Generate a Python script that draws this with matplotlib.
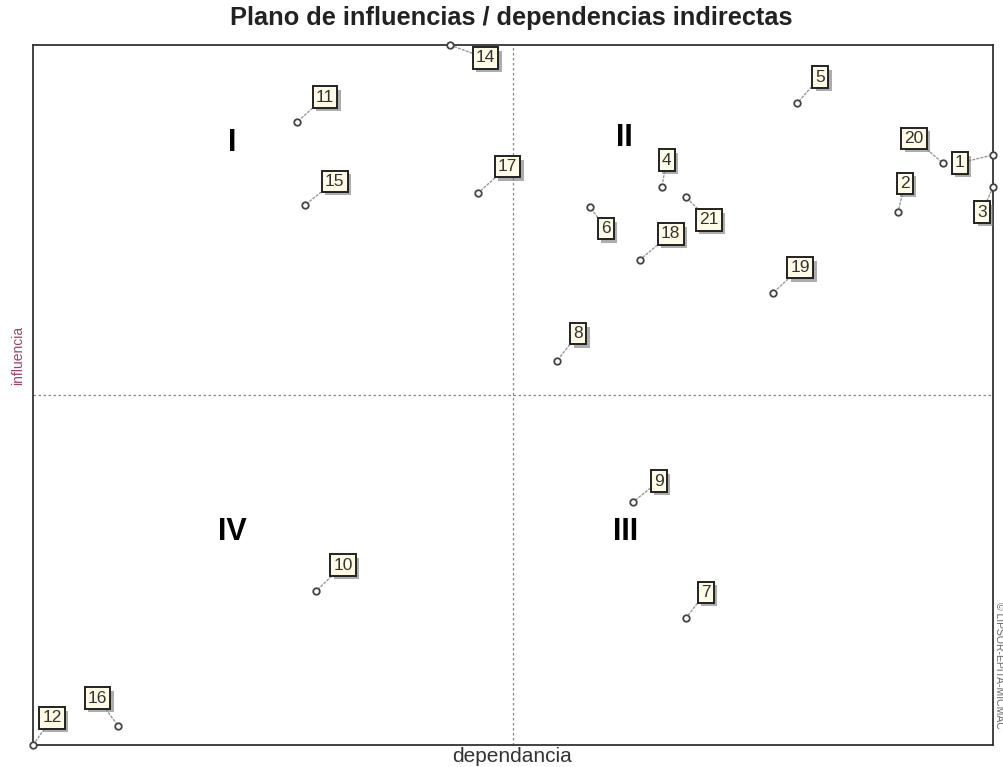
import matplotlib
matplotlib.use("Agg")
import matplotlib.pyplot as plt
import matplotlib.patheffects as pe

plt.rcParams['font.family'] = ['Liberation Sans', 'DejaVu Sans']

# Data (dependance x, influence y), 0..100 scale
ids = ["1", "2", "3", "4", "5", "6", "7", "8", "9", "10", "11", "12",
       "14", "15", "16", "17", "18", "19", "20", "21"]
dependancia = [100.0, 90.1, 100.0, 65.5, 79.6, 58.0, 68.0, 54.6, 62.5, 29.5, 27.5, 0.0,
               43.4, 28.3, 8.9, 46.4, 63.2, 77.1, 94.8, 68.0]
influencia = [84.3, 76.1, 79.7, 79.7, 91.7, 76.9, 18.1, 54.9, 34.7, 22.0, 89.0, 0.0,
              100.0, 77.1, 2.7, 78.9, 69.3, 64.6, 83.1, 78.3]
# label offsets in pixels (layout)
label_dx = [-33, 7, -11, 5, 23, 16, 20, 21, 26, 27, 28, 19, 36, 30, -21, 29, 31, 27, -29, 23]
label_dy = [-8, 29, -25, 27, 26, -22, 26, 27, 21, 26, 25, 27, -13, 24, 28, 26, 26, 25, 25, -23]

quadrants = ["I", "II", "III", "IV"]
quad_x = [20.7, 61.6, 61.7, 20.8]
quad_y = [86.0, 86.7, 30.4, 30.4]

fig = plt.figure(figsize=(10.04, 7.67), dpi=100)
W, H = 1004, 767
ax = fig.add_axes([33 / W, (H - 745) / H, (993 - 33) / W, (745 - 45) / H])
ax.set_xlim(0, 100)
ax.set_ylim(0, 100)
ax.set_xticks([])
ax.set_yticks([])
for s in ax.spines.values():
    s.set_color('#333333')
    s.set_linewidth(1.3)

ax.axvline(50, color='#888888', lw=0.9, ls=(0, (2, 2)), zorder=1)
ax.axhline(50, color='#888888', lw=0.9, ls=(0, (2, 2)), zorder=1)

for i, (lab, x, y) in enumerate(zip(ids, dependancia, influencia)):
    dx, dy = label_dx[i], label_dy[i]
    t = ax.annotate(lab, xy=(x, y), xytext=(dx, dy), textcoords='offset pixels',
                    ha='center', va='center', fontsize=12.5, color='#333333',
                    bbox=dict(boxstyle='square,pad=0.18', fc='#fffbe6', ec='#222222', lw=1.4),
                    arrowprops=dict(arrowstyle='-', color='#999999', lw=1.0, ls=(0, (1.5, 1.5)),
                                    shrinkA=0, shrinkB=3),
                    zorder=5, annotation_clip=False)
    t.get_bbox_patch().set_path_effects([
        pe.SimplePatchShadow(offset=(2.5, -2.5), shadow_rgbFace='#777777', alpha=0.6),
        pe.Normal()])
ax.scatter(dependancia, influencia, s=22, facecolor='white', edgecolor='#444444',
           linewidths=1.3, zorder=6, clip_on=False)

for q, qx, qy in zip(quadrants, quad_x, quad_y):
    ax.text(qx, qy, q, fontsize=22, fontweight='bold', ha='center', va='center',
            color='black', zorder=7,
            bbox=dict(boxstyle='square,pad=0.1', fc='white', ec='none'))

fig.text(511 / W, 1 - 18 / H, "Plano de influencias / dependencias indirectas",
         ha='center', va='center', fontsize=18.3, fontweight='bold', color='#222222')
fig.text(512 / W, 1 - 757 / H, "dependancia", ha='center', va='center',
         fontsize=15, color='#333333')
fig.text(18 / W, 1 - 355 / H, "influencia", ha='center', va='center',
         fontsize=10, color='#a0406a', rotation=90)
fig.text(999 / W, 1 - 665 / H, "© LIPSOR-EPITA-MICMAC", ha='center', va='center',
         fontsize=7.5, color='#666666', rotation=270)

fig.savefig("out.png", dpi=100, facecolor='white')
